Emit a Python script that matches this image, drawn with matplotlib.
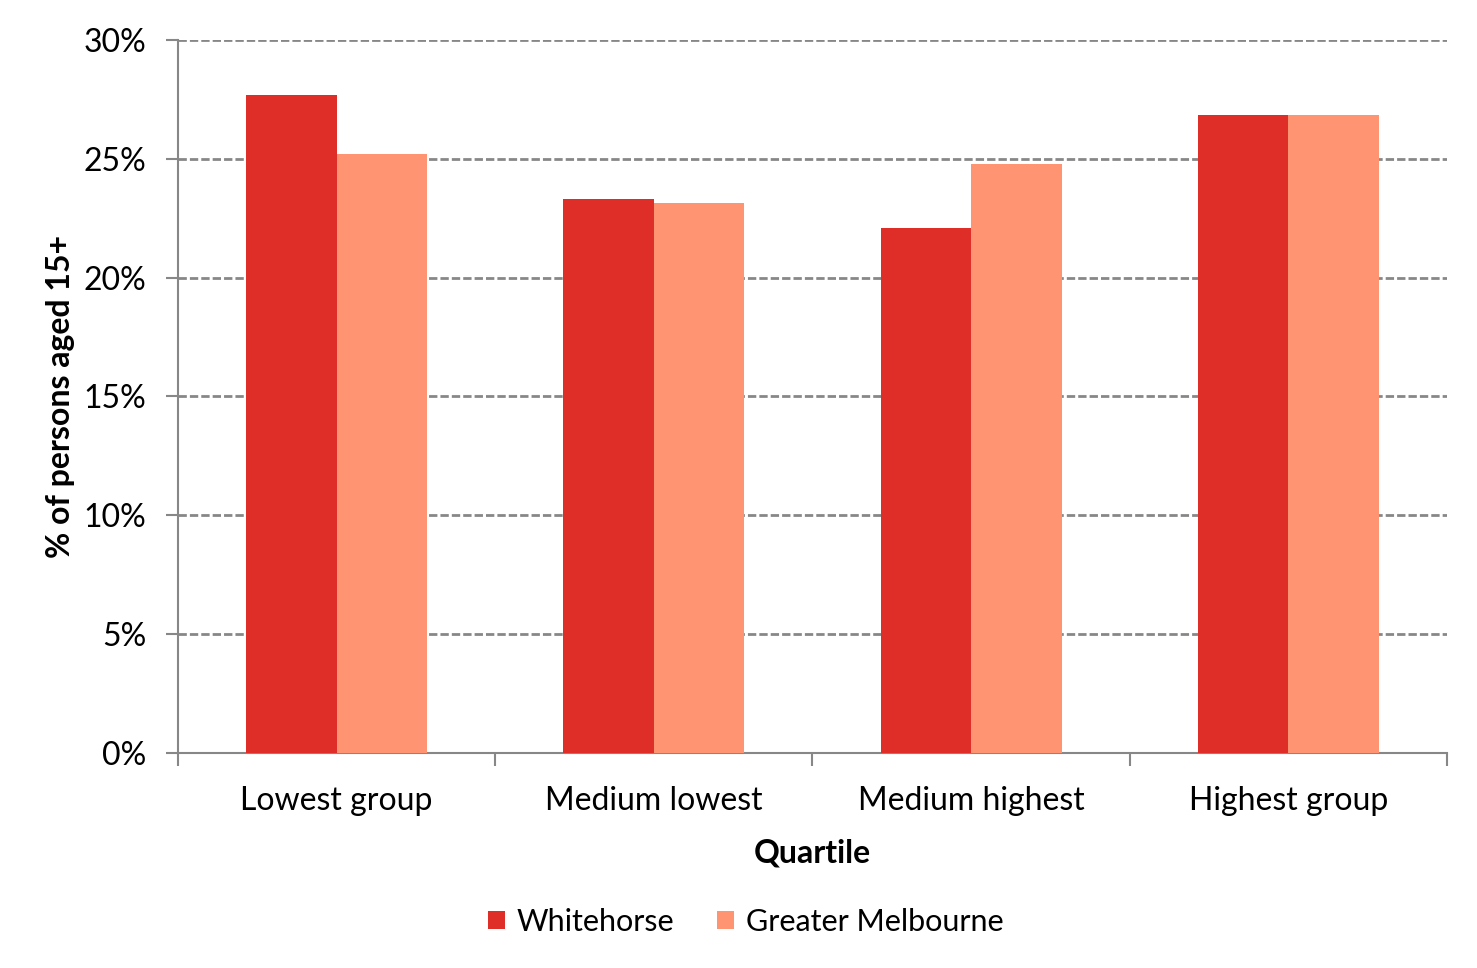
import matplotlib
matplotlib.use("Agg")
import matplotlib.pyplot as plt
import numpy as np
from matplotlib.ticker import PercentFormatter

# data
quartiles = ["Lowest group", "Medium lowest", "Medium highest", "Highest group"]
whitehorse = [27.7, 23.3, 22.1, 26.85]
greater_melbourne = [25.2, 23.15, 24.8, 26.85]

plt.rcParams['font.family'] = ['Lato', 'DejaVu Sans']

fig = plt.figure(figsize=(14.77, 9.68), dpi=100)
ax = fig.add_axes([0.1205, 0.2221, 0.8592, 0.7366])

x = np.arange(len(quartiles))
w = 0.285
ax.bar(x - w / 2, whitehorse, w, color="#DF2E28", label="Whitehorse", zorder=3)
ax.bar(x + w / 2, greater_melbourne, w, color="#FF9473", label="Greater Melbourne", zorder=3)

gray = "#878787"
ax.set_xlim(-0.5, len(quartiles) - 0.5)
ax.set_ylim(0, 30)
ax.set_yticks(range(0, 31, 5))
ax.yaxis.set_major_formatter(PercentFormatter(decimals=0))
ax.set_xticks(x)
ax.set_xticklabels(quartiles)
ax.set_xticks(np.arange(-0.5, len(quartiles)), minor=True)
ax.tick_params(axis="x", which="major", length=0, labelsize=23, pad=24)
ax.tick_params(axis="x", which="minor", length=9, width=1.5, color=gray, direction="out")
ax.tick_params(axis="y", length=9, width=1.5, color=gray, labelsize=23, pad=14)

ax.yaxis.grid(True, color=gray, linestyle=(0, (3, 1.1)), linewidth=2, zorder=0)
for s in ["top", "right"]:
    ax.spines[s].set_visible(False)
for s in ["left", "bottom"]:
    ax.spines[s].set_color(gray)
    ax.spines[s].set_linewidth(1.5)

ax.set_xlabel("Quartile", fontsize=23, fontweight="bold", labelpad=16)
ax.set_ylabel("% of persons aged 15+", fontsize=23, fontweight="bold", labelpad=6)

fig.legend(loc="center", bbox_to_anchor=(0.505, 0.048), ncol=2, frameon=False,
           fontsize=22, handlelength=0.55, handleheight=0.55, handletextpad=0.4,
           columnspacing=1.4)

fig.savefig("out.png", dpi=100)
